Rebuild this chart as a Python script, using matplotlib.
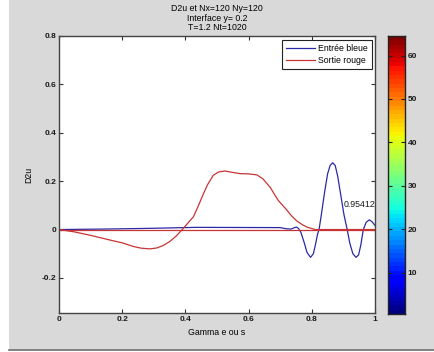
import numpy as np
import matplotlib
matplotlib.use("Agg")
import matplotlib.pyplot as plt
from matplotlib.patches import Rectangle
from matplotlib.lines import Line2D

plt.rcParams['font.family'] = ['Liberation Sans', 'DejaVu Sans']

# courbe bleue (entree)
x_bleu = [0.0, 0.146, 0.29, 0.435, 0.70, 0.72, 0.735, 0.745, 0.752, 0.758,
          0.765, 0.775, 0.785, 0.796, 0.805, 0.812, 0.818, 0.823, 0.83, 0.84,
          0.85, 0.858, 0.866, 0.874, 0.882, 0.892, 0.902, 0.912, 0.92, 0.93,
          0.94, 0.948, 0.955, 0.963, 0.972, 0.982, 0.99, 1.0]
y_bleu = [0.0, 0.002, 0.005, 0.009, 0.008, 0.003, 0.002, 0.008, 0.010, 0.004,
          -0.01, -0.05, -0.095, -0.115, -0.10, -0.06, -0.02, 0.0, 0.06, 0.15,
          0.23, 0.265, 0.276, 0.265, 0.22, 0.14, 0.06, 0.0, -0.055, -0.10,
          -0.115, -0.105, -0.065, 0.0, 0.03, 0.04, 0.033, 0.017]

# courbe rouge (sortie)
x_rouge = [0.0, 0.05, 0.1, 0.16, 0.2, 0.235, 0.26, 0.288, 0.31, 0.33, 0.35,
           0.37, 0.39, 0.41, 0.425, 0.44, 0.457, 0.47, 0.488, 0.505, 0.525,
           0.55, 0.573, 0.6, 0.626, 0.645, 0.668, 0.694, 0.72, 0.735, 0.752,
           0.77, 0.785, 0.80, 0.81, 1.0]
y_rouge = [0.0, -0.01, -0.024, -0.043, -0.055, -0.07, -0.077, -0.08, -0.076,
           -0.066, -0.05, -0.028, 0.0, 0.03, 0.052, 0.095, 0.148, 0.185, 0.224,
           0.238, 0.242, 0.236, 0.231, 0.23, 0.226, 0.21, 0.175, 0.12, 0.082,
           0.058, 0.036, 0.02, 0.01, 0.004, 0.0, 0.0]

x_ticks = [0, 0.2, 0.4, 0.6, 0.8, 1]
x_labels = ['0', '0.2', '0.4', '0.6', '0.8', '1']
y_ticks = [-0.2, 0, 0.2, 0.4, 0.6, 0.8]
y_labels = ['-0.2', '0', '0.2', '0.4', '0.6', '0.8']
cb_ticks = [10, 20, 30, 40, 50, 60]

W, H = 434, 352
fig = plt.figure(figsize=(W / 100, H / 100), dpi=100, facecolor='white')

# fond gris de la fenetre
fig.patches.append(Rectangle((9 / W, 2 / H), 1 - 9 / W, 1 - 2 / H,
                             transform=fig.transFigure, facecolor='#d9d9d9',
                             edgecolor='none', zorder=-10))
fig.lines.append(Line2D([9 / W, 1], [2.5 / H, 2.5 / H], transform=fig.transFigure,
                        color='#707070', lw=1.2))

ax = fig.add_axes([59 / W, 1 - 313 / H, 316 / W, 277 / H])
ax.set_facecolor('white')

bleu = '#2a2aa8'
rouge = '#c83434'
ax.plot(x_bleu, y_bleu, color=bleu, lw=0.9, label='Entrée bleue')
ax.plot([0, 1], [0, 0], color=rouge, lw=0.9)
ax.plot(x_rouge, y_rouge, color=rouge, lw=0.9, label='Sortie rouge')

ax.set_xlim(0, 1)
ax.set_ylim(-0.345, 0.8)
ax.set_xticks(x_ticks)
ax.set_xticklabels(x_labels, fontsize=6, fontweight='bold', color='#1a1a1a')
ax.set_yticks(y_ticks)
ax.set_yticklabels(y_labels, fontsize=6, fontweight='bold', color='#1a1a1a')
ax.tick_params(direction='in', length=3, width=0.8, top=True, right=True,
               pad=2, color='#333333')
for s in ax.spines.values():
    s.set_color('#444444')
    s.set_linewidth(1.0)

ax.text(0.9, 0.104, '0.95412', fontsize=6.3, va='center', ha='left', color='#1a1a1a')

ax.set_xlabel('Gamma e ou s', fontsize=6.3, labelpad=4)
ax.set_ylabel('D2u', fontsize=6.3, labelpad=6)
ax.set_title('D2u et Nx=120 Ny=120\nInterface y= 0.2\nT=1.2 Nt=1020',
             fontsize=6.3, linespacing=1.1, pad=4)

leg = ax.legend(loc='upper right', bbox_to_anchor=(0.99, 0.985), fontsize=6.3,
                fancybox=False, edgecolor='#222222', framealpha=1,
                handlelength=3.3, handletextpad=0.35, borderpad=0.45,
                labelspacing=0.35, borderaxespad=0)
leg.get_frame().set_linewidth(0.8)

# barre de couleurs jet
cax = fig.add_axes([388 / W, 1 - 314 / H, 17 / W, 278 / H])
niveaux = np.arange(1, 65).reshape(64, 1)
cax.imshow(niveaux, cmap='jet', aspect='auto', origin='lower',
           extent=[0, 1, 0.5, 64.5])
cax.set_xticks([])
cax.set_yticks(cb_ticks)
cax.yaxis.tick_right()
cax.set_yticklabels([str(t) for t in cb_ticks], fontsize=6, fontweight='bold',
                    color='#1a1a1a')
cax.tick_params(axis='y', direction='in', length=3, width=0.8, left=True,
                right=True, pad=2, color='#222222')
for s in cax.spines.values():
    s.set_color('#222222')
    s.set_linewidth(1.0)

fig.savefig('out.png', dpi=100, facecolor=fig.get_facecolor())
